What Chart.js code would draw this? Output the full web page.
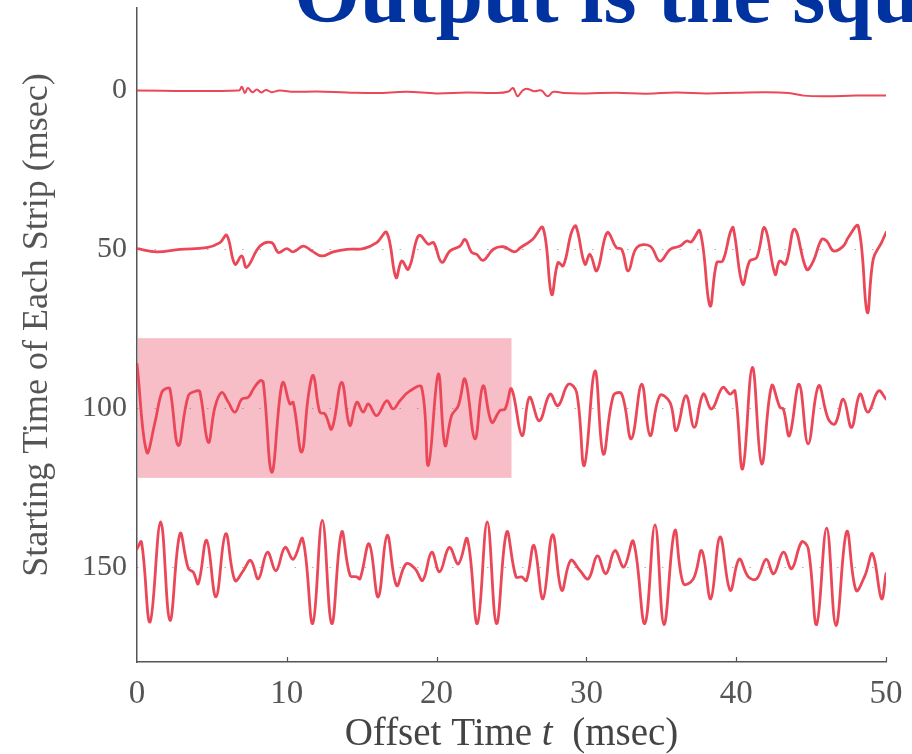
<!DOCTYPE html>
<html>
<head>
<meta charset="utf-8">
<script src="https://cdn.jsdelivr.net/npm/chart.js@4.4.1/dist/chart.umd.min.js"></script>
<style>
html, body { margin: 0; padding: 0; background: #fff; }
#c { display: block; }
</style>
</head>
<body>
<canvas id="c" width="912" height="754"></canvas>
<script>
// axis ticks
const xTicks = [0, 10, 20, 30, 40, 50];
const yTicks = [0, 50, 100, 150];
const stripStarts = [0, 50, 100, 150];
// shaded block (offset time range, strip range)
const highlightT = [0, 25];
const highlightV = [78, 122];

// strips: [offset time (ms), plotted value]
const strip0 = [[0,0],[6.8,0],[7.0,-1.2],[7.2,0.8],[7.4,-0.8],[7.7,0.5],[8.0,-0.3],[8.3,0.6],[8.6,-0.2],[9.0,0.5],[9.5,0],
  [10.5,0.4],[12,0.3],[14,0.6],[16,0.8],[18,0.4],[20,0.9],[22,0.6],[24,0.8],[24.8,0.3],[25.1,-0.8],[25.4,1.8],[25.7,0.2],
  [26.0,-0.6],[26.5,0.2],[27.0,0],[27.4,1.8],[27.8,0.4],[28.5,0.8],[30,0.9],[32,0.7],[34,1.0],[36,0.6],[38,0.9],[40,0.7],
  [42,0.5],[43.5,0.8],[44.5,1.6],[46,1.8],[48,1.6],[50,1.6]];

const strip50 = [[0,49.8],[1.31,50.8],[2.87,50.0],[4.65,49.5],[5.54,47.9],[5.99,45.6],[6.54,54.7],[6.99,52.1],[7.32,55.7],
  [8.21,49.0],[8.99,47.9],[9.43,51.0],[9.99,49.8],[10.43,50.8],[11.1,49.0],[11.66,50.5],[12.33,52.1],[13.1,50.8],[14.0,50.0],
  [15.1,49.8],[16.0,47.9],[16.67,44.7],[17.29,58.9],[17.67,53.7],[18.11,56.3],[18.67,46.9],[18.9,45.6],[19.45,48.4],[19.8,47.9],
  [20.34,54.1],[20.9,50.5],[21.56,49.0],[21.9,46.9],[22.34,51.0],[22.68,51.6],[23.1,53.5],[23.79,50.0],[24.45,49.2],[25.2,50.8],
  [25.6,49.5],[26.4,46.9],[27.1,43.2],[27.68,64.2],[28.1,54.2],[28.46,55.2],[29.0,44.7],[29.3,42.7],[29.9,54.7],[30.24,51.6],
  [30.69,56.8],[31.24,46.3],[31.46,44.7],[32.0,49.5],[32.36,50.0],[32.8,56.8],[33.36,49.5],[34.25,49.0],[34.9,53.7],[35.6,50.0],
  [36.25,49.0],[36.7,47.4],[37.0,47.7],[37.58,44.2],[38.25,67.8],[38.7,54.2],[39.1,53.7],[39.6,44.7],[39.8,43.2],[40.43,61.0],
  [40.9,53.7],[41.37,52.6],[41.9,43.2],[42.6,57.9],[42.9,53.7],[43.3,54.7],[43.9,43.7],[44.7,56.3],[45.15,53.7],[45.7,46.9],
  [46.04,47.4],[46.5,50.5],[47.15,49.0],[47.48,46.3],[48.15,42.7],[48.75,69.9],[49.15,53.1],[49.7,47.9],[50,44.7]];

const strip100 = [[0,86.2],[0.65,113.9],[1.2,104.5],[1.65,95.1],[1.98,93.8],[2.2,94.0],[2.76,111.8],[3.43,96.1],[3.98,94.6],
  [4.2,94.9],[4.76,110.8],[5.2,99.8],[5.65,95.1],[6.1,98.2],[6.54,101.3],[6.99,97.2],[7.43,96.6],[7.77,94.0],[8.21,91.4],
  [8.43,91.9],[8.99,120.2],[9.55,96.1],[9.77,91.9],[10.2,98.7],[10.43,98.2],[10.99,113.9],[11.44,96.1],[11.77,89.8],[12.2,101.3],
  [12.55,101.9],[13.0,106.6],[13.66,91.9],[14.2,105.5],[14.67,98.2],[15.1,101.3],[15.44,98.7],[16.0,102.4],[16.67,97.7],
  [17.1,100.3],[17.55,97.7],[18.22,94.6],[19.0,93.5],[19.45,118.1],[20.11,89.3],[20.56,111.8],[21.0,102.4],[21.45,99.3],
  [21.9,90.9],[22.56,109.7],[23.1,93.0],[23.68,104.5],[24.23,100.8],[24.57,100.3],[25.0,94.0],[25.7,108.7],[26.2,96.6],
  [26.86,104.0],[27.57,95.6],[28.1,99.3],[28.8,92.5],[29.35,95.1],[29.86,118.1],[30.57,88.3],[31.13,114.5],[31.8,96.1],
  [32.36,95.6],[33.0,109.7],[33.69,92.5],[34.25,108.7],[34.9,96.1],[35.58,98.2],[36.0,107.1],[36.65,96.1],[37.2,106.1],
  [37.8,95.6],[38.36,100.3],[39.1,93.5],[39.59,95.6],[39.92,94.6],[40.43,119.2],[41.08,87.2],[41.7,117.6],[42.37,93.0],
  [42.92,99.8],[43.15,100.3],[43.55,108.7],[44.2,92.5],[44.8,111.3],[45.5,93.0],[46.15,103.5],[46.6,105.0],[47.15,97.2],
  [47.7,106.1],[48.26,95.6],[48.8,101.3],[49.5,94.6],[50,97.2]];

const strip150 = [[0,144.3],[0.3,142.2],[0.87,167.4],[1.58,135.9],[2.2,166.9],[2.87,139.6],[3.43,150.6],[3.76,151.7],
  [4.09,155.3],[4.65,141.7],[5.27,159.5],[5.92,139.6],[6.54,154.3],[7.1,151.2],[7.59,148.0],[8.1,153.8],[8.7,145.4],
  [9.28,151.2],[9.88,143.9],[10.43,147.6],[11.06,141.2],[11.73,167.9],[12.37,135.4],[13.0,167.9],[13.66,139.1],[14.22,152.7],
  [14.67,153.2],[14.89,153.8],[15.5,142.8],[16.1,159.5],[16.7,140.1],[17.33,155.9],[17.96,149.1],[18.56,150.6],[19.07,154.3],
  [19.67,145.4],[20.2,151.6],[20.85,143.9],[21.45,149.1],[22.05,141.2],[22.72,167.9],[23.38,135.9],[24.0,167.9],[24.68,139.1],
  [25.3,153.2],[25.68,153.2],[26.0,154.3],[26.5,143.3],[27.1,160.1],[27.74,139.9],[28.35,157.4],[28.95,148.0],[29.57,151.2],
  [30.13,153.8],[30.73,146.6],[31.3,152.2],[31.9,144.9],[32.5,150.1],[33.13,142.0],[33.9,167.9],[34.58,136.8],[35.18,168.2],
  [35.9,138.6],[36.47,155.3],[37.14,153.8],[37.7,144.9],[38.3,160.1],[38.92,140.6],[39.6,157.4],[40.2,147.6],[40.81,153.2],
  [41.37,153.8],[42.0,147.7],[42.5,152.2],[43.15,145.4],[43.7,150.6],[44.37,142.2],[44.81,144.3],[45.37,168.2],[46.04,137.8],
  [46.66,168.5],[47.38,138.9],[48.0,157.4],[48.6,152.7],[49.1,145.9],[49.7,160.1],[50,152.2]];

const serif = '"Liberation Serif", "Times New Roman", serif';
const axisGray = '#555';
const lineRed = '#ea4858';

const toPoints = arr => arr.map(p => ({ x: p[0], y: p[1] }));

// pink block + faint dotted strip baselines, drawn under the traces
const backdrop = {
  id: 'backdrop',
  beforeDatasetsDraw(chart) {
    const { ctx, chartArea, scales: { x, y } } = chart;
    ctx.save();
    ctx.fillStyle = '#f7bec8';
    const x0 = x.getPixelForValue(highlightT[0]), x1 = x.getPixelForValue(highlightT[1]);
    const y0 = y.getPixelForValue(highlightV[0]), y1 = y.getPixelForValue(highlightV[1]);
    ctx.fillRect(x0 + 1, y0, x1 - x0 - 1, y1 - y0);
    ctx.strokeStyle = 'rgba(110,110,110,0.55)';
    ctx.lineWidth = 1;
    ctx.setLineDash([1.5, 16]);
    stripStarts.slice(1).forEach(v => {
      const py = Math.round(y.getPixelForValue(v)) + 0.5;
      ctx.beginPath();
      ctx.moveTo(chartArea.left, py);
      ctx.lineTo(chartArea.right, py);
      ctx.stroke();
    });
    // small inward tick marks on the time axis
    ctx.setLineDash([]);
    ctx.strokeStyle = axisGray;
    ctx.lineWidth = 1.2;
    xTicks.slice(1).forEach(v => {
      const px = Math.round(x.getPixelForValue(v)) + 0.5;
      ctx.beginPath();
      ctx.moveTo(px, chartArea.bottom);
      ctx.lineTo(px, chartArea.bottom - 5);
      ctx.stroke();
    });
    ctx.restore();
  }
};

// slide heading, axis titles (x title has an italic t)
const texts = {
  id: 'texts',
  afterDraw(chart) {
    const { ctx, chartArea } = chart;
    ctx.save();
    ctx.textBaseline = 'alphabetic';
    ctx.textAlign = 'left';
    ctx.fillStyle = '#0033a0';
    ctx.font = 'bold 85px ' + serif;
    ctx.fillText('Output is the squ', 294, 22);

    const parts = [['Offset Time ', ''], ['t', 'italic '], ['  (msec)', '']];
    const size = 39;
    let total = 0;
    parts.forEach(p => { ctx.font = p[1] + size + 'px ' + serif; total += ctx.measureText(p[0]).width; });
    let px = (chartArea.left + chartArea.right) / 2 - total / 2;
    ctx.fillStyle = '#444';
    parts.forEach(p => {
      ctx.font = p[1] + size + 'px ' + serif;
      ctx.fillText(p[0], px, 745);
      px += ctx.measureText(p[0]).width;
    });

    ctx.translate(38, 325);
    ctx.rotate(-Math.PI / 2);
    ctx.textAlign = 'center';
    ctx.textBaseline = 'middle';
    ctx.fillStyle = axisGray;
    ctx.font = '36px ' + serif;
    ctx.fillText('Starting Time of Each Strip (msec)', 0, 0);
    ctx.restore();
  }
};

const datasets = [strip0, strip50, strip100, strip150].map((s, i) => ({
  data: toPoints(s),
  borderColor: lineRed,
  borderWidth: i === 0 ? 2 : 2.8,
  pointRadius: 0,
  fill: false,
  tension: 0.4,
  borderJoinStyle: 'round',
  borderCapStyle: 'round'
}));

new Chart(document.getElementById('c'), {
  type: 'line',
  data: { datasets },
  options: {
    responsive: false,
    animation: false,
    devicePixelRatio: 1,
    layout: { padding: { top: 8, right: 26, left: 0, bottom: 0 } },
    plugins: { legend: { display: false }, tooltip: { enabled: false } },
    scales: {
      x: {
        type: 'linear',
        min: 0,
        max: 50,
        afterBuildTicks: s => { s.ticks = xTicks.map(v => ({ value: v })); },
        afterFit: s => { s.height = 92; s.paddingLeft = 0; s.paddingRight = 0; },
        grid: { display: false, drawTicks: false },
        border: { display: true, color: axisGray, width: 1.5 },
        ticks: { color: axisGray, padding: 13, maxRotation: 0, font: { family: serif, size: 33 } }
      },
      y: {
        type: 'linear',
        reverse: true,
        min: -26,
        max: 180,
        afterBuildTicks: s => { s.ticks = yTicks.map(v => ({ value: v })); },
        afterFit: s => { s.width = 137; s.paddingTop = 0; s.paddingBottom = 0; },
        grid: { display: false, drawTicks: false },
        border: { display: true, color: axisGray, width: 1.5 },
        ticks: { color: axisGray, padding: 10, font: { family: serif, size: 30 } }
      }
    }
  },
  plugins: [backdrop, texts]
});
</script>
</body>
</html>
